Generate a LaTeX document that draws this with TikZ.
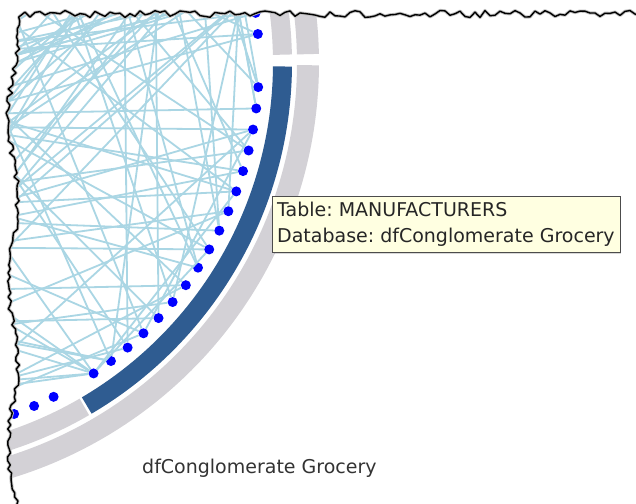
\documentclass[tikz,border=0pt]{standalone}
\usepackage{fontspec}
\setmainfont{DejaVu Sans}
\usetikzlibrary{shadows}

\definecolor{linkblue}{RGB}{170,214,228}
\definecolor{bandgrey}{RGB}{211,209,214}
\definecolor{tabblue}{RGB}{47,92,145}
\definecolor{tipfill}{RGB}{255,255,225}

% ragged screenshot border (top and left), closed outside the page
\newcommand\tornedge{(765,50)
  \foreach \x in {760,755,...,135}{ -- (\x,{49+3.5*rand}) }
  \foreach \y in {46,42,...,-450}{ -- ({128+5*sin(2.2*\y+30)+2.5*rand},\y) }
  -- (765,-455) -- cycle}

\begin{document}
\frenchspacing
\begin{tikzpicture}[x=1pt,y=1pt,
    link/.style={linkblue,line width=1.8pt},
    dot/.style={circle,fill=blue,inner sep=0pt,minimum size=10pt},
    band/.style={line width=#1},
    tip/.style={draw=black!70,fill=tipfill,text=black!85,align=left,
      inner xsep=5pt,inner ysep=6pt,
      font=\fontsize{19}{26}\selectfont,
      drop shadow={shadow xshift=1.5pt,shadow yshift=-1.5pt,opacity=0.3}}]

	\useasboundingbox (115,63) rectangle (751,-440);
	\fill[white] (115,63) rectangle (751,-440);

	\begin{scope}
		\pgfmathsetseed{7}
		\clip \tornedge;

		% outer ring: databases
		\draw[band=22pt,bandgrey] (1.2:423) arc[start angle=1.2,end angle=30,radius=423];
		\draw[band=22pt,bandgrey] (-0.3:423) arc[start angle=-0.3,end angle=-110,radius=423];

		% inner ring: tables
		\draw[band=19pt,bandgrey] (1.2:397.5) arc[start angle=1.2,end angle=30,radius=397.5];
		\draw[band=19pt,tabblue] (-0.5:397.5) arc[start angle=-0.5,end angle=-59.5,radius=397.5];
		\draw[band=19pt,bandgrey] (-59.9:397.5) arc[start angle=-59.9,end angle=-110,radius=397.5];

		% columns on the circle
		\foreach \a [count=\i] in {7.7,4.45,-3.7,-6.98,-10.25,-13.53,-16.8,-20.08,-23.35,
		  -26.63,-29.9,-33.18,-36.45,-39.73,-43,-46.28,-49.55,-52.83,-56.1,-63.2,-66.5,-69.8}
			\node[dot] (d\i) at (\a:374) {};
		\foreach \k in {0,...,83}
			\coordinate (f\k) at (11+3.3*\k:374);

		% links
		\foreach \i in {1,...,19}{
			\foreach \j in {1,2,3}{
				\pgfmathtruncatemacro\t{random(0,80)}
				\draw[link] (d\i) -- (f\t);
			}
		}
		\foreach \i in {19,19,19,18}{
			\pgfmathtruncatemacro\t{random(30,60)}
			\draw[link] (d\i) -- (f\t);
		}
		\draw[link] (d19) -- (d8);
		\draw[link] (d19) -- (d11);
		\draw[link] (d16) -- (d5);
		\foreach \j in {1,...,40}{
			\pgfmathtruncatemacro\s{random(0,8)}
			\pgfmathtruncatemacro\t{random(55,76)}
			\draw[link] (f\s) -- (f\t);
		}
	\end{scope}

	% ragged border
	\pgfmathsetseed{7}
	\draw[black!25,line width=3.2pt,line join=round] \tornedge;
	\pgfmathsetseed{7}
	\draw[black,line width=1.4pt,line join=round] \tornedge;

	% tooltip
	\node[tip,anchor=north west] (tooltip) at (387,-133)
		{Table: MANUFACTURERS\\Database: dfConglomerate Grocery};

	% database name
	\node[anchor=base west,inner sep=0pt,text=black!80,
	  font=\fontsize{19}{23}\selectfont] (dbname) at (257,-410) {dfConglomerate Grocery};

\end{tikzpicture}
\end{document}
